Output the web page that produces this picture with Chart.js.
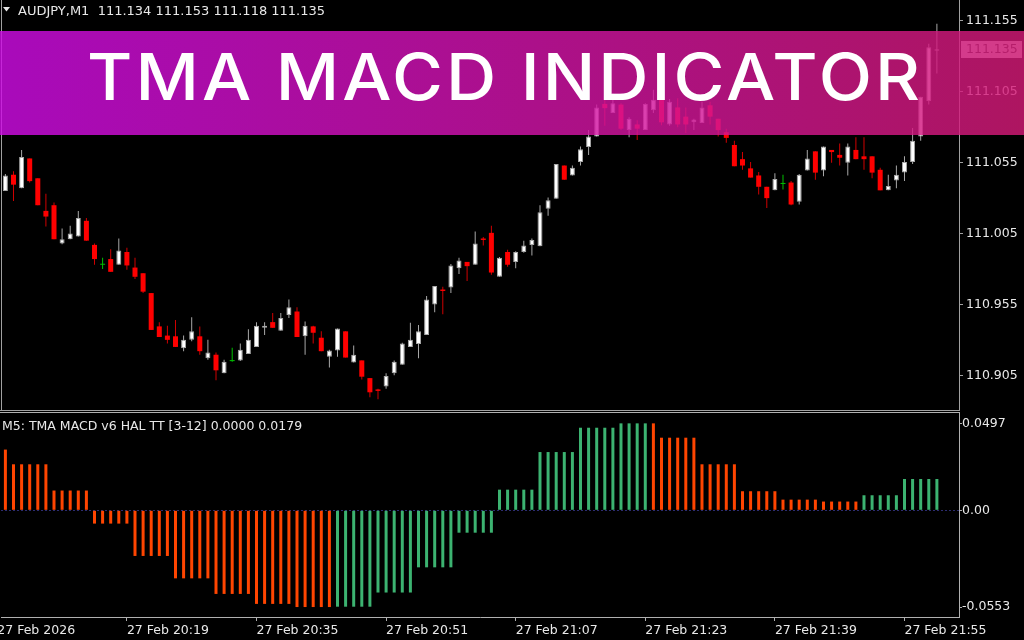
<!DOCTYPE html>
<html>
<head>
<meta charset="utf-8">
<script src="https://cdn.jsdelivr.net/npm/chart.js@4.4.1/dist/chart.umd.min.js"></script>
<style>
  html, body { margin: 0; padding: 0; background: #000; }
  #wrap { position: relative; width: 1024px; height: 640px; overflow: hidden; background: #000; }
  #precios { position: absolute; left: 0; top: 0; }
  #macd { position: absolute; left: 0; top: 411px; }
  #banner {
    position: absolute; left: 0; top: 31px; width: 1024px; height: 104px;
    background: linear-gradient(90deg, rgba(206, 12, 228, 0.82), rgba(210, 20, 165, 0.82) 55%, rgba(212, 26, 118, 0.82));
  }
  #titulo {
    position: absolute; left: 87px; white-space: nowrap; color: #fff;
    font-family: Inter, "Open Sans", sans-serif; font-weight: 500;
    transform-origin: 0 0;
  }
</style>
</head>
<body>
<div id="wrap">
  <canvas id="precios" width="1024" height="411"></canvas>
  <canvas id="macd" width="1024" height="229"></canvas>
  <div id="banner"><span id="titulo">TMA MACD INDICATOR</span></div>
</div>
<script>
// Velas M1 de AUDJPY (una por minuto, de 20:04 a 21:59)
const opens = [
  111.035, 111.0465, 111.037, 111.058, 111.044, 111.021, 111.025, 110.998, 111.001, 111.003,
  111.014, 110.997, 110.983, 110.987, 110.983, 110.992, 110.981, 110.977, 110.963, 110.9395,
  110.933, 110.9325, 110.924, 110.930, 110.9325, 110.917, 110.9195, 110.9065, 110.915, 110.9155,
  110.920, 110.925, 110.9385, 110.9425, 110.9365, 110.9475, 110.950, 110.9325, 110.9395, 110.9315,
  110.918, 110.9225, 110.936, 110.914, 110.9155, 110.903, 110.895, 110.897, 110.9065, 110.9125,
  110.925, 110.927, 110.9335, 110.955, 110.9655, 110.967, 110.9805, 110.985, 110.983, 111.0015,
  111.0055, 110.9745, 110.992, 110.985, 110.992, 110.997, 110.996, 111.0225, 111.0295, 111.053,
  111.046, 111.0555, 111.066, 111.0735, 111.0965, 111.090, 111.096, 111.078, 111.082, 111.078,
  111.092, 111.1005, 111.082, 111.094, 111.0875, 111.0835, 111.083, 111.0955, 111.086, 111.0765,
  111.0675, 111.0575, 111.051, 111.046, 111.038, 111.0355, 111.040, 111.041, 111.0275, 111.0495,
  111.063, 111.0495, 111.064, 111.0605, 111.055, 111.064, 111.0595, 111.0595, 111.050, 111.0355,
  111.0425, 111.048, 111.0555, 111.0735, 111.0985, 111.134
];
const highs = [
  111.047, 111.049, 111.064, 111.058, 111.044, 111.033, 111.027, 111.0085, 111.0105, 111.021,
  111.016, 110.998, 110.988, 110.994, 111.0015, 110.995, 110.988, 110.977, 110.963, 110.9425,
  110.940, 110.944, 110.933, 110.946, 110.9395, 110.930, 110.921, 110.916, 110.9245, 110.9275,
  110.9375, 110.9425, 110.9425, 110.949, 110.949, 110.9585, 110.953, 110.943, 110.940, 110.936,
  110.923, 110.938, 110.936, 110.926, 110.9155, 110.903, 110.8955, 110.9065, 110.9155, 110.928,
  110.942, 110.9405, 110.961, 110.968, 110.9675, 110.9835, 110.988, 110.985, 111.0065, 111.0025,
  111.0105, 110.9885, 110.9935, 110.9925, 111.000, 111.0015, 111.025, 111.0305, 111.054, 111.053,
  111.053, 111.0665, 111.078, 111.096, 111.1005, 111.104, 111.097, 111.087, 111.085, 111.097,
  111.1065, 111.103, 111.100, 111.1005, 111.094, 111.086, 111.098, 111.098, 111.086, 111.079,
  111.0705, 111.0625, 111.0555, 111.0485, 111.038, 111.0475, 111.0465, 111.042, 111.047, 111.064,
  111.063, 111.0665, 111.064, 111.0685, 111.0685, 111.073, 111.073, 111.0595, 111.0515, 111.0465,
  111.053, 111.0595, 111.0795, 111.1015, 111.139, 111.153
];
const lows = [
  111.035, 111.028, 111.037, 111.041, 111.025, 111.010, 111.001, 110.9975, 111.001, 111.003,
  111.000, 110.983, 110.980, 110.978, 110.983, 110.9795, 110.973, 110.963, 110.937, 110.932,
  110.9275, 110.925, 110.922, 110.929, 110.9195, 110.916, 110.9015, 110.9065, 110.9145, 110.915,
  110.920, 110.925, 110.9335, 110.9385, 110.9365, 110.9455, 110.932, 110.9195, 110.9275, 110.922,
  110.9105, 110.918, 110.9175, 110.914, 110.902, 110.8895, 110.888, 110.8955, 110.905, 110.9125,
  110.925, 110.917, 110.9335, 110.9495, 110.948, 110.963, 110.9765, 110.9715, 110.983, 110.9965,
  110.976, 110.9745, 110.9815, 110.9805, 110.9915, 110.9895, 110.996, 111.0175, 111.0295, 111.043,
  111.046, 111.053, 111.0605, 111.0735, 111.081, 111.090, 111.078, 111.073, 111.071, 111.078,
  111.090, 111.0815, 111.081, 111.080, 111.076, 111.078, 111.083, 111.082, 111.0735, 111.069,
  111.0525, 111.050, 111.0445, 111.0325, 111.023, 111.0355, 111.036, 111.025, 111.0255, 111.0495,
  111.043, 111.0455, 111.055, 111.053, 111.046, 111.0575, 111.050, 111.044, 111.0355, 111.0355,
  111.037, 111.042, 111.054, 111.0705, 111.096, 111.118
];
const closes = [
  111.046, 111.0395, 111.059, 111.042, 111.025, 111.017, 111.001, 111.001, 111.005, 111.016,
  111.000, 110.987, 110.983, 110.978, 110.993, 110.9825, 110.9745, 110.964, 110.937, 110.932,
  110.930, 110.925, 110.930, 110.936, 110.922, 110.921, 110.9085, 110.9145, 110.915, 110.923,
  110.930, 110.940, 110.940, 110.9385, 110.9455, 110.953, 110.932, 110.940, 110.935, 110.922,
  110.9225, 110.938, 110.9175, 110.9195, 110.904, 110.893, 110.894, 110.9045, 110.9145, 110.9275,
  110.930, 110.936, 110.9585, 110.968, 110.9645, 110.9825, 110.986, 110.982, 110.998, 111.0005,
  110.9775, 110.988, 110.983, 110.992, 110.9965, 111.0005, 111.020, 111.0285, 111.054, 111.043,
  111.0515, 111.0645, 111.0735, 111.094, 111.0935, 111.097, 111.079, 111.086, 111.079, 111.0965,
  111.0995, 111.0835, 111.098, 111.082, 111.082, 111.0855, 111.094, 111.0875, 111.078, 111.0725,
  111.0525, 111.053, 111.0445, 111.038, 111.030, 111.0435, 111.040, 111.0255, 111.0465, 111.058,
  111.048, 111.0665, 111.0625, 111.0585, 111.0665, 111.0575, 111.0575, 111.048, 111.0355, 111.0385,
  111.0465, 111.0555, 111.0705, 111.1015, 111.1365, 111.135
];

// TMA MACD (M5) mostrado en cada vela M1, y su tendencia (1 = sube, 0 = baja)
const macdValues = [
  0.0347, 0.0263, 0.0263, 0.0263, 0.0263, 0.0263, 0.0113, 0.0113, 0.0113, 0.0113,
  0.0113, -0.0076, -0.0076, -0.0076, -0.0076, -0.0076, -0.0261, -0.0261, -0.0261, -0.0261,
  -0.0261, -0.0389, -0.0389, -0.0389, -0.0389, -0.0389, -0.0478, -0.0478, -0.0478, -0.0478,
  -0.0478, -0.0535, -0.0535, -0.0535, -0.0535, -0.0535, -0.0553, -0.0553, -0.0553, -0.0553,
  -0.0553, -0.0551, -0.0551, -0.0551, -0.0551, -0.0551, -0.0470, -0.0470, -0.0470, -0.0470,
  -0.0470, -0.0326, -0.0326, -0.0326, -0.0326, -0.0326, -0.0128, -0.0128, -0.0128, -0.0128,
  -0.0128, 0.0118, 0.0118, 0.0118, 0.0118, 0.0118, 0.0333, 0.0333, 0.0333, 0.0333,
  0.0333, 0.0472, 0.0472, 0.0472, 0.0472, 0.0472, 0.0497, 0.0497, 0.0497, 0.0497,
  0.0497, 0.0415, 0.0415, 0.0415, 0.0415, 0.0415, 0.0263, 0.0263, 0.0263, 0.0263,
  0.0263, 0.0109, 0.0109, 0.0109, 0.0109, 0.0109, 0.0061, 0.0061, 0.0061, 0.0061,
  0.0061, 0.0050, 0.0050, 0.0050, 0.0050, 0.0050, 0.0086, 0.0086, 0.0086, 0.0086,
  0.0086, 0.0179, 0.0179, 0.0179, 0.0179, 0.0179
];
const macdTrend = [
  0, 0, 0, 0, 0, 0, 0, 0, 0, 0,
  0, 0, 0, 0, 0, 0, 0, 0, 0, 0,
  0, 0, 0, 0, 0, 0, 0, 0, 0, 0,
  0, 0, 0, 0, 0, 0, 0, 0, 0, 0,
  0, 1, 1, 1, 1, 1, 1, 1, 1, 1,
  1, 1, 1, 1, 1, 1, 1, 1, 1, 1,
  1, 1, 1, 1, 1, 1, 1, 1, 1, 1,
  1, 1, 1, 1, 1, 1, 1, 1, 1, 1,
  0, 0, 0, 0, 0, 0, 0, 0, 0, 0,
  0, 0, 0, 0, 0, 0, 0, 0, 0, 0,
  0, 0, 0, 0, 0, 0, 1, 1, 1, 1,
  1, 1, 1, 1, 1, 1
];

// Ejes: precios, valores del MACD y marcas de tiempo (índice de vela)
const priceTicks = [110.905, 110.955, 111.005, 111.055, 111.105, 111.155];
const macdTicks = [0.0497, 0, -0.0553];
const macdTickLabels = ['0.0497', '0.00', '-0.0553'];
const timeTickBars = [-1, 15, 31, 47, 63, 79, 95, 111];
const timeLabels = ['27 Feb 2026', '27 Feb 20:19', '27 Feb 20:35', '27 Feb 20:51',
  '27 Feb 21:07', '27 Feb 21:23', '27 Feb 21:39', '27 Feb 21:55'];

const xMin = -0.543, xMax = 117.73;
const fontEje = { family: 'DejaVu Sans', size: 12.5 };
const ultimo = closes.length - 1;

// Tipo de vela: alcista, bajista o doji
const tipoVela = opens.map((o, i) => closes[i] > o ? 'up' : (closes[i] < o ? 'down' : 'doji'));
const colorCuerpo = { up: '#ffffff', down: '#ff0000', doji: '#00c000' };
const colorBorde = { up: '#a8a8a8', down: '#ff0000', doji: '#00c000' };
const colorMecha = { up: '#a8a8a8', down: '#d00000', doji: '#00c000' };

// El eje no reserva margen extra para sus etiquetas
const ejeVertical = (s) => { s.width = 65; s.paddingTop = 0; s.paddingBottom = 0; };
const ejeHorizontal = (s) => { s.height = 23; s.paddingLeft = 0; s.paddingRight = 0; };

// Marco, cabecera y etiqueta del precio actual
const marcoPrecios = {
  id: 'marcoPrecios',
  afterDraw: (chart) => {
    const { ctx, chartArea: a, scales: { y } } = chart;
    ctx.save();
    ctx.strokeStyle = '#a0a0a0';
    ctx.lineWidth = 1;
    ctx.beginPath();
    ctx.moveTo(1.5, 0); ctx.lineTo(1.5, a.bottom);
    ctx.moveTo(0, a.bottom + 0.5); ctx.lineTo(a.right + 1, a.bottom + 0.5);
    ctx.stroke();

    ctx.fillStyle = '#e8e8e8';
    ctx.beginPath();
    ctx.moveTo(3, 7); ctx.lineTo(10, 7); ctx.lineTo(6.5, 11.5);
    ctx.closePath();
    ctx.fill();
    ctx.font = '13px "DejaVu Sans"';
    ctx.textBaseline = 'alphabetic';
    const cabecera = `AUDJPY,M1  ${opens[ultimo].toFixed(3)} ${highs[ultimo].toFixed(3)} ${lows[ultimo].toFixed(3)} ${closes[ultimo].toFixed(3)}`;
    ctx.fillText(cabecera, 18, 15);

    const yc = y.getPixelForValue(closes[ultimo]);
    ctx.fillStyle = '#d0d0d0';
    ctx.fillRect(961, Math.round(yc) - 8, 61, 17);
    ctx.fillStyle = '#303030';
    ctx.font = '12.5px "DejaVu Sans"';
    ctx.textBaseline = 'middle';
    ctx.fillText(closes[ultimo].toFixed(3), 966, yc + 0.5);
    ctx.restore();
  }
};

// Línea cero punteada, borde superior y nombre del indicador
const marcoMacd = {
  id: 'marcoMacd',
  beforeDatasetsDraw: (chart) => {
    const { ctx, chartArea: a, scales: { y } } = chart;
    const y0 = Math.round(y.getPixelForValue(0)) + 0.5;
    ctx.save();
    ctx.strokeStyle = '#2c2c70';
    ctx.setLineDash([2, 2]);
    ctx.beginPath();
    ctx.moveTo(a.left, y0); ctx.lineTo(a.right, y0);
    ctx.stroke();
    ctx.restore();
  },
  afterDraw: (chart) => {
    const { ctx, chartArea: a } = chart;
    ctx.save();
    ctx.strokeStyle = '#b0b0b0';
    ctx.lineWidth = 1;
    ctx.beginPath();
    ctx.moveTo(0, 1.5); ctx.lineTo(a.right + 1, 1.5);
    ctx.stroke();
    const v = macdValues[ultimo];
    const bajada = macdTrend[ultimo] ? 0 : v;
    const subida = macdTrend[ultimo] ? v : 0;
    ctx.fillStyle = '#e8e8e8';
    ctx.font = '12.5px "DejaVu Sans"';
    ctx.textBaseline = 'alphabetic';
    ctx.fillText(`M5: TMA MACD v6 HAL TT [3-12] ${bajada.toFixed(4)} ${subida.toFixed(4)}`, 2, 19);
    ctx.restore();
  }
};

// Gráfica de velas (cuerpos y mechas como barras flotantes)
const ctxPrecios = document.getElementById('precios').getContext('2d');
new Chart(ctxPrecios, {
  type: 'bar',
  data: {
    datasets: [
      {
        label: 'Cuerpos',
        data: opens.map((o, i) => ({ x: i, y: [o, closes[i]] })),
        backgroundColor: tipoVela.map(t => colorCuerpo[t]),
        borderColor: tipoVela.map(t => colorBorde[t]),
        borderWidth: tipoVela.map(t => t === 'up' ? 1 : 0),
        borderSkipped: false,
        barThickness: 5,
        minBarLength: 1,
        inflateAmount: 0,
        grouped: false,
        order: 1
      },
      {
        label: 'Mechas',
        data: highs.map((h, i) => ({ x: i, y: [lows[i], h] })),
        backgroundColor: tipoVela.map(t => colorMecha[t]),
        borderWidth: 0,
        barThickness: 1,
        inflateAmount: 0,
        grouped: false,
        order: 2
      }
    ]
  },
  options: {
    responsive: false,
    animation: false,
    layout: { padding: { left: 1, top: 0, right: 0, bottom: 1 } },
    plugins: { legend: { display: false }, tooltip: { enabled: false } },
    scales: {
      x: { type: 'linear', min: xMin, max: xMax, offset: false, display: false },
      y: {
        position: 'right',
        min: 110.8805,
        max: 111.1698,
        afterFit: ejeVertical,
        afterBuildTicks: (s) => { s.ticks = priceTicks.map(v => ({ value: v })); },
        ticks: { color: '#e8e8e8', font: fontEje, padding: 3, callback: (v) => v.toFixed(3) },
        grid: { drawOnChartArea: false, tickLength: 4, tickColor: '#a0a0a0' },
        border: { color: '#a0a0a0' }
      }
    }
  },
  plugins: [marcoPrecios]
});

// Histograma del TMA MACD
const ctxMacd = document.getElementById('macd').getContext('2d');
new Chart(ctxMacd, {
  type: 'bar',
  data: {
    datasets: [{
      label: 'TMA MACD',
      data: macdValues.map((v, i) => ({ x: i, y: v })),
      backgroundColor: macdTrend.map(t => t ? '#3cb371' : '#ff4500'),
      borderWidth: 0,
      barThickness: 3,
      inflateAmount: 0,
      grouped: false
    }]
  },
  options: {
    responsive: false,
    animation: false,
    layout: { padding: { left: 1, top: 1, right: 0, bottom: 0 } },
    plugins: { legend: { display: false }, tooltip: { enabled: false } },
    scales: {
      x: {
        type: 'linear', min: xMin, max: xMax, offset: false,
        afterFit: ejeHorizontal,
        afterBuildTicks: (s) => { s.ticks = timeTickBars.map(v => ({ value: v })); },
        ticks: {
          autoSkip: false, maxRotation: 0, align: 'start', color: '#e8e8e8',
          font: fontEje, padding: 2, callback: (v, i) => timeLabels[i]
        },
        grid: { offset: false, drawOnChartArea: false, tickLength: 4, tickColor: '#b0b0b0' },
        border: { color: '#b0b0b0' }
      },
      y: {
        position: 'right',
        min: -0.06099,
        max: 0.05619,
        afterFit: ejeVertical,
        afterBuildTicks: (s) => { s.ticks = macdTicks.map(v => ({ value: v })); },
        ticks: { color: '#e8e8e8', font: fontEje, padding: 0, callback: (v, i) => macdTickLabels[i] },
        grid: { drawOnChartArea: false, tickLength: 3, tickColor: '#b0b0b0' },
        border: { color: '#b0b0b0' }
      }
    }
  },
  plugins: [marcoMacd]
});

// Título del banner: altura de mayúsculas 47px, de x=87 a x=920
const titulo = document.getElementById('titulo');
const medir = document.createElement('canvas').getContext('2d');
medir.font = '500 100px Inter';
const capAlto = medir.measureText('H').actualBoundingBoxAscent;
const tam = 100 * 47 / capAlto;
medir.font = `500 ${tam}px Inter`;
const m = medir.measureText(titulo.textContent);
const ancho = 1.08;
const espacio = (833 / ancho - m.width) / (titulo.textContent.length - 1);
titulo.style.fontSize = tam + 'px';
titulo.style.lineHeight = tam + 'px';
titulo.style.letterSpacing = espacio + 'px';
titulo.style.transform = `scaleX(${ancho})`;
const baseLinea = (tam - m.fontBoundingBoxAscent - m.fontBoundingBoxDescent) / 2 + m.fontBoundingBoxAscent;
titulo.style.top = (100.5 - 31 - baseLinea) + 'px';
</script>
</body>
</html>
